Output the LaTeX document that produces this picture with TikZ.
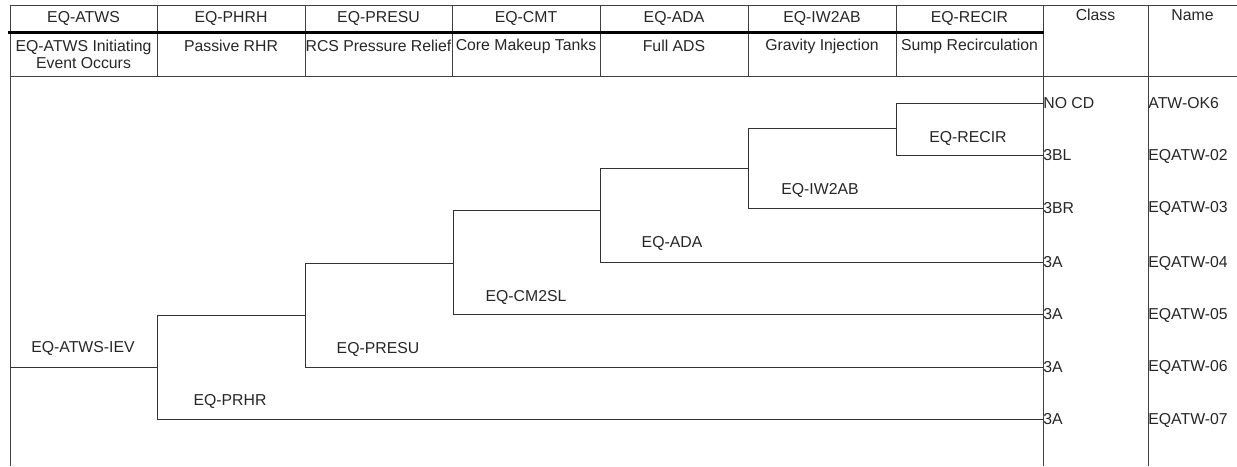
\documentclass[tikz,border=0pt]{standalone}
\usepackage{fontspec}
\setmainfont{Liberation Sans}
\begin{document}
\begin{tikzpicture}[x=1pt,y=-1pt,line cap=butt,line join=miter,line width=0.8pt,
  font=\fontsize{15.8}{17}\selectfont,
  every node/.style={inner sep=0pt,text=black!85},
  tree/.style={draw=black!80,line width=1pt},
  grid/.style={draw=black!75,line width=1pt}]
  \useasboundingbox (0,0) rectangle (1237,466);
  \draw[grid] (10,5) -- (1237,5);
  \draw[grid] (10,76) -- (1237,76);
  \draw[grid] (10,5) -- (10,466);
  \draw[grid] (1043,5) -- (1043,466);
  \draw[grid] (1148,5) -- (1148,466);
  \foreach \cx in {157,305,452,600,748,896}
    \draw[grid] (\cx,5) -- (\cx,76);
  \draw[line width=3pt] (8,32) -- (1044,32);
  \node (hatws) at (83.5,18) {EQ-ATWS};
  \node (hphrh) at (231,18) {EQ-PHRH};
  \node (hpresu) at (378.5,18) {EQ-PRESU};
  \node (hcmt) at (526,18) {EQ-CMT};
  \node (hada) at (674,18) {EQ-ADA};
  \node (hiw) at (822,18) {EQ-IW2AB};
  \node (hrecir) at (969.5,18) {EQ-RECIR};
  \node (hclass) at (1095.5,15) {Class};
  \node (hname) at (1192.5,15) {Name};
  \node[align=center] (datws) at (83.5,54.5) {EQ-ATWS Initiating\\Event Occurs};
  \node (dphrh) at (231,46) {Passive RHR};
  \node (dpresu) at (378.5,46) {RCS Pressure Relief};
  \node (dcmt) at (526,46) {Core Makeup Tanks};
  \node (dada) at (674,46) {Full ADS};
  \node (diw) at (822,46) {Gravity Injection};
  \node (drecir) at (969.5,46) {Sump Recirculation};
  \node[anchor=west] (c1) at (1043,103) {NO CD};
  \node[anchor=west] (c2) at (1043,155) {3BL};
  \node[anchor=west] (c3) at (1043,208) {3BR};
  \node[anchor=west] (c4) at (1043,262) {3A};
  \node[anchor=west] (c5) at (1043,314) {3A};
  \node[anchor=west] (c6) at (1043,367) {3A};
  \node[anchor=west] (c7) at (1043,419) {3A};
  \node[anchor=west] (n1) at (1148,103) {ATW-OK6};
  \node[anchor=west] (n2) at (1148,156) {EQATW-02};
  \node[anchor=west] (n3) at (1148,208) {EQATW-03};
  \node[anchor=west] (n4) at (1148,263) {EQATW-04};
  \node[anchor=west] (n5) at (1148,315) {EQATW-05};
  \node[anchor=west] (n6) at (1148,367) {EQATW-06};
  \node[anchor=west] (n7) at (1148,420) {EQATW-07};
  \coordinate (root) at (10,367);
  \coordinate (j1) at (157,367);
  \coordinate (j2) at (305,315);
  \coordinate (j3) at (453,263);
  \coordinate (j4) at (600,210);
  \coordinate (j5) at (748,168);
  \coordinate (j6) at (896,128);
  \draw[tree] (root) -- (j1);
  \draw[tree] (j1) |- (j2);
  \draw[tree] (j1) |- (c7.west);
  \draw[tree] (j2) |- (j3);
  \draw[tree] (j2) |- (c6.west);
  \draw[tree] (j3) |- (j4);
  \draw[tree] (j3) |- (c5.west);
  \draw[tree] (j4) |- (j5);
  \draw[tree] (j4) |- (c4.west);
  \draw[tree] (j5) |- (j6);
  \draw[tree] (j5) |- (c3.west);
  \draw[tree] (j6) |- (c1.west);
  \draw[tree] (j6) |- (c2.west);
  \node (liev) at (83,348) {EQ-ATWS-IEV};
  \node (lprhr) at (230,401) {EQ-PRHR};
  \node (lpresu) at (378,349) {EQ-PRESU};
  \node (lcm) at (526,297) {EQ-CM2SL};
  \node (lada) at (672,243) {EQ-ADA};
  \node (liw) at (820,190) {EQ-IW2AB};
  \node (lrecir) at (968,138) {EQ-RECIR};
\end{tikzpicture}
\end{document}
